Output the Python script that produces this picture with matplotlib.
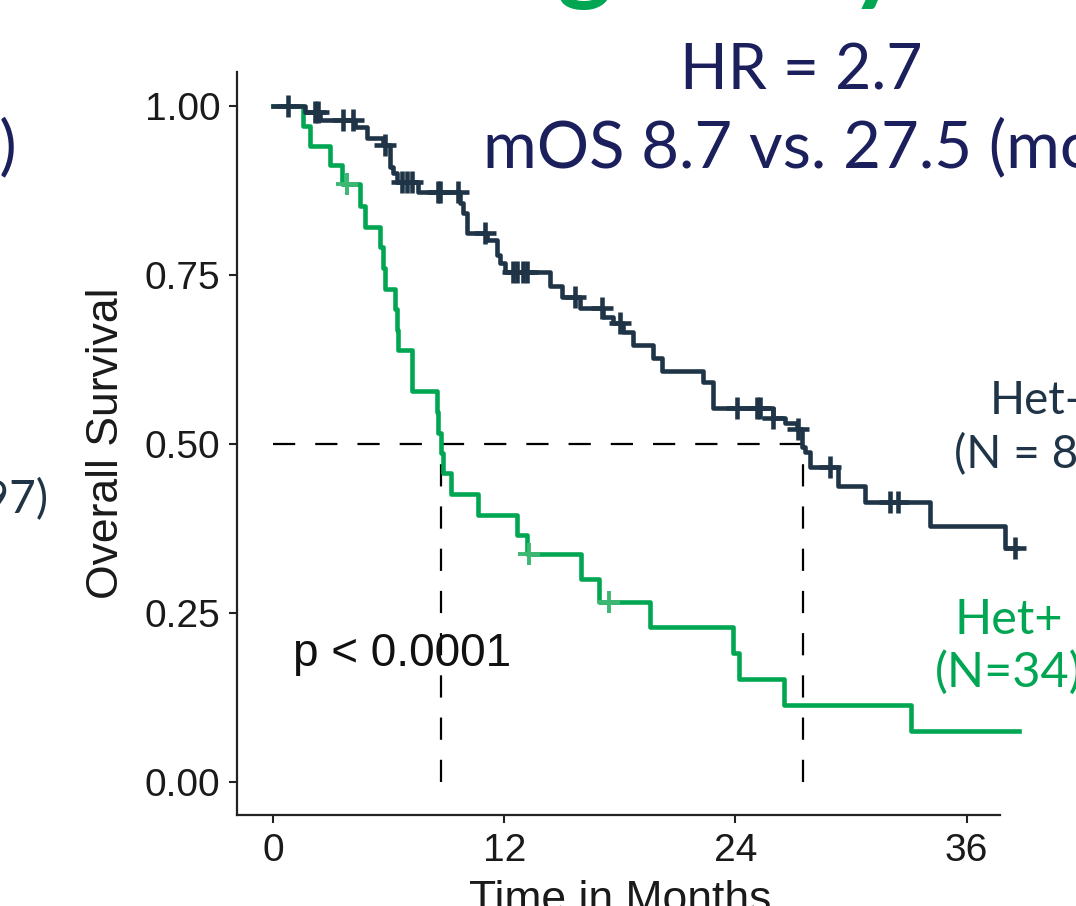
import numpy as np
import matplotlib
matplotlib.use("Agg")
import matplotlib.pyplot as plt
from matplotlib.font_manager import FontProperties

# ---------------- data ----------------
# Het+ group (green): step times (months) and survival after each step; last entry = end of follow-up
green_time = [0, 1.56, 1.92, 2.96, 3.58, 4.51, 4.77, 5.55, 5.71, 5.81, 6.33, 6.43, 6.49,
              7.21, 8.50, 8.58, 8.70, 8.80, 9.24, 10.64, 12.66, 13.18, 15.98, 16.92,
              19.57, 23.85, 24.16, 26.52, 33.10, 38.70]
green_surv = [1.0, 0.970, 0.941, 0.912, 0.884, 0.852, 0.821, 0.791, 0.760, 0.730, 0.700,
              0.669, 0.639, 0.578, 0.548, 0.517, 0.487, 0.457, 0.426, 0.395, 0.365, 0.337,
              0.300, 0.267, 0.229, 0.191, 0.153, 0.114, 0.076, 0.076]
green_censor = [3.84, 13.28, 17.44]

# Het- group (dark): step times and survival
dark_time = [0, 1.66, 2.44, 4.26, 4.88, 5.71, 6.07, 6.23, 6.43, 7.53, 9.71, 9.86, 10.07,
             11.10, 11.62, 11.78, 12.04, 14.37, 15.00, 15.93, 17.13, 17.64, 18.16, 18.68,
             19.72, 20.19, 22.31, 22.83, 25.95, 26.57, 27.19, 27.45, 27.60, 27.87, 29.32,
             30.72, 34.09, 37.99, 38.60]
dark_surv = [1.0, 0.991, 0.979, 0.969, 0.953, 0.942, 0.910, 0.901, 0.888, 0.873, 0.856,
             0.842, 0.812, 0.802, 0.780, 0.768, 0.755, 0.733, 0.718, 0.701, 0.688, 0.679,
             0.666, 0.646, 0.627, 0.608, 0.592, 0.553, 0.538, 0.531, 0.522, 0.496, 0.488,
             0.466, 0.438, 0.414, 0.379, 0.346, 0.346]
dark_censor = [0.78, 2.18, 2.33, 3.63, 4.15, 5.81, 6.70, 6.95, 7.21, 8.56, 8.67, 9.60,
               11.00, 12.45, 12.66, 12.97, 13.20, 15.67, 17.07, 18.00, 24.08, 25.12,
               25.27, 25.95, 27.25, 28.90, 32.02, 32.43, 38.50]

median_green = 8.7
median_dark = 27.5

x_ticks = [0, 12, 24, 36]
y_ticks = [0.00, 0.25, 0.50, 0.75, 1.00]
y_ticklabels = ["0.00", "0.25", "0.50", "0.75", "1.00"]

GREEN = "#00a651"
GREEN_LIGHT = "#3cb873"
DARK = "#1f3547"
NAVY = "#1b1f5c"

W, H = 1076, 906
fig = plt.figure(figsize=(W / 100, H / 100), dpi=100)
fig.patch.set_facecolor("white")

ax_l, ax_r, ax_t, ax_b = 237, 1000, 72, 815
ax = fig.add_axes([ax_l / W, 1 - ax_b / H, (ax_r - ax_l) / W, (ax_b - ax_t) / H])
ax.set_xlim(-1.868, 37.73)
ax.set_ylim(-0.0488, 1.0503)

def surv_at(times, survs, t):
    i = np.searchsorted(times, t, side="right") - 1
    return survs[i]

# reference dashed lines
dash = (0, (10, 9))
ax.plot([0, median_dark], [0.5, 0.5], color="black", lw=1.6, ls=dash, zorder=1)
ax.plot([median_green, median_green], [0, 0.5], color="black", lw=1.6, ls=dash, zorder=1)
ax.plot([median_dark, median_dark], [0, 0.5], color="black", lw=1.6, ls=dash, zorder=1)

# curves
ax.step(green_time, green_surv, where="post", color=GREEN, lw=3.3, clip_on=False, zorder=3)
ax.step(dark_time, dark_surv, where="post", color=DARK, lw=3.3, clip_on=False, zorder=4)

gc_s = [surv_at(green_time, green_surv, t) for t in green_censor]
dc_s = [surv_at(dark_time, dark_surv, t) for t in dark_censor]
ax.plot(green_censor, gc_s, ls="none", marker="+", ms=16, mew=2.8, color=GREEN_LIGHT,
        clip_on=False, zorder=3)
ax.plot(dark_censor, dc_s, ls="none", marker="+", ms=16, mew=3.3, color=DARK,
        clip_on=False, zorder=5)

# axes styling
for s in ["top", "right"]:
    ax.spines[s].set_visible(False)
for s in ["left", "bottom"]:
    ax.spines[s].set_linewidth(1.6)
    ax.spines[s].set_color("#222222")
ax.set_xticks(x_ticks)
ax.set_yticks(y_ticks)
ax.set_yticklabels(y_ticklabels)
ax.tick_params(axis="both", direction="out", length=6, width=1.5, color="#222222",
               labelsize=28, labelcolor="#1a1a1a")
ax.tick_params(axis="y", pad=6)
ax.tick_params(axis="x", pad=7)
for lab in ax.get_xticklabels() + ax.get_yticklabels():
    lab.set_family("Liberation Sans")

ax.set_ylabel("Overall Survival", fontsize=32, family="Liberation Sans", color="#1a1a1a")
ax.yaxis.set_label_coords(-0.144, 0.5)
ax.set_xlabel("Time in Months", fontsize=32, family="Liberation Sans", color="#1a1a1a")
ax.xaxis.set_label_coords(0.502, -0.088)

ax.text(1.04, 0.19, "p < 0.0001", fontsize=33, family="Liberation Sans", color="#111111",
        ha="left", va="center")

def fx(x):
    return x / W

def fy(y):
    return 1 - y / H

# slide title (only its descenders are visible at the top edge)
title = "Heterogeneity"
renderer = fig.canvas.get_renderer()
fp = FontProperties(family="Lato", weight="bold", size=72)
def tw(s):
    return renderer.get_text_width_height_descent(s, fp, ismath=False)
w_pre = tw("Hetero")[0]
w_g = tw("g")[0]
w_pre2 = tw("Heterogeneit")[0]
w_y = tw("y")[0]
g_c = w_pre + w_g / 2
y_c = w_pre2 + w_y / 2
scale = 292.0 / (y_c - g_c)
t_size = 72 * scale
x0 = 585 - g_c * scale
base_y = -9
fig.text(fx(x0), fy(base_y), title, fontsize=t_size, fontweight="bold", family="Lato",
         color=GREEN, ha="left", va="baseline")

fig.text(fx(680), fy(72), "HR = 2.7", fontsize=45, family="Lato", color=NAVY,
         ha="left", va="center")
fig.text(fx(483), fy(148), "mOS 8.7 vs. 27.5 (months)", fontsize=47, family="Lato",
         color=NAVY, ha="left", va="center")
fig.text(fx(17), fy(148), "(months)", fontsize=47, family="Lato", color=NAVY,
         ha="right", va="center")
fig.text(fx(48), fy(500), "(N = 97)", fontsize=33, family="Lato", color=DARK,
         ha="right", va="center")
fig.text(fx(1036), fy(428), "Het-\n(N = 84)", fontsize=33, family="Lato", color=DARK,
         ha="center", va="center", linespacing=1.3)
fig.text(fx(1009), fy(646), "Het+\n(N=34)", fontsize=35, family="Lato", color=GREEN,
         ha="center", va="center", linespacing=1.22)

fig.savefig("out.png", dpi=100, facecolor="white")
